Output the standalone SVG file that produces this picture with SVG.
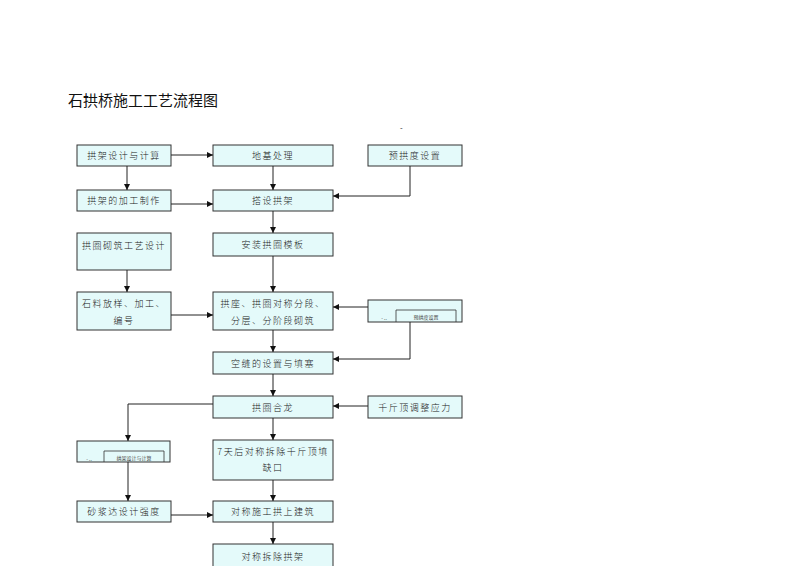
<svg xmlns="http://www.w3.org/2000/svg" width="800" height="566" viewBox="0 0 800 566">
<style>
.n{fill:#E4FAFA;stroke:#333;stroke-width:1}
.t{font-family:"Noto Sans CJK SC","Liberation Serif",sans-serif;font-size:9px;font-weight:300;letter-spacing:1.5px;fill:#222;text-anchor:middle;dominant-baseline:central}
.s{font-family:"Noto Sans CJK SC",sans-serif;font-size:5px;fill:#444;text-anchor:middle;dominant-baseline:central}
.c{stroke:#222;stroke-width:1;fill:none;marker-end:url(#a)}
</style>
<defs><marker id="a" viewBox="0 0 10 10" refX="10" refY="5" markerWidth="6" markerHeight="6" markerUnits="userSpaceOnUse" orient="auto"><path d="M0,0L10,5L0,10z" fill="#111"/></marker></defs>
<rect width="800" height="566" fill="#fff"/>
<text x="68" y="106" font-family="Noto Sans CJK SC,sans-serif" font-size="15" fill="#111">石拱桥施工工艺流程图</text>
<text x="400" y="130" font-family="Liberation Sans,sans-serif" font-size="8" fill="#333">-</text>
<g id="n1"><rect class="n" x="77" y="145" width="94" height="21"/><text class="t" x="124" y="155.5">拱架设计与计算</text></g>
<g id="n2"><rect class="n" x="213" y="145" width="120" height="21"/><text class="t" x="273" y="155.5">地基处理</text></g>
<g id="n3"><rect class="n" x="368" y="145" width="94" height="21"/><text class="t" x="415" y="155.5">预拱度设置</text></g>
<g id="n4"><rect class="n" x="77" y="190" width="94" height="21"/><text class="t" x="124" y="200.5">拱架的加工制作</text></g>
<g id="n5"><rect class="n" x="213" y="190" width="120" height="21"/><text class="t" x="273" y="200.5">搭设拱架</text></g>
<g id="n6"><rect class="n" x="77" y="233" width="94" height="37"/><text class="t" x="124" y="245">拱圈砌筑工艺设计</text></g>
<g id="n7"><rect class="n" x="213" y="233" width="120" height="23"/><text class="t" x="273" y="244.5">安装拱圈模板</text></g>
<g id="n8"><rect class="n" x="77" y="292" width="94" height="38"/><text class="t" x="124" y="303">石料放样、加工、</text><text class="t" x="124" y="320">编号</text></g>
<g id="n9"><rect class="n" x="213" y="292" width="120" height="38"/><text class="t" x="273" y="303">拱座、拱圈对称分段、</text><text class="t" x="273" y="320">分层、分阶段砌筑</text></g>
<g id="n10"><rect class="n" x="368" y="300" width="94" height="22"/><path d="M396,322V310H456V322" fill="none" stroke="#333" stroke-width="0.8"/><text class="s" x="426" y="316.5">预拱度设置</text><text class="s" x="384" y="317">- ..</text></g>
<g id="n11"><rect class="n" x="213" y="352" width="120" height="22"/><text class="t" x="273" y="363">空缝的设置与填塞</text></g>
<g id="n12"><rect class="n" x="213" y="396" width="120" height="22"/><text class="t" x="273" y="407">拱圈合龙</text></g>
<g id="n13"><rect class="n" x="368" y="396" width="94" height="22"/><text class="t" x="415" y="407">千斤顶调整应力</text></g>
<g id="n14"><rect class="n" x="77" y="441" width="93" height="21"/><path d="M104,462V451H164V462" fill="none" stroke="#333" stroke-width="0.8"/><text class="s" x="134" y="457">拱架设计与计算</text><text class="s" x="89" y="458">- ..</text></g>
<g id="n15"><rect class="n" x="213" y="440" width="120" height="40"/><text class="t" x="273" y="451">7天后对称拆除千斤顶填</text><text class="t" x="273" y="467">缺口</text></g>
<g id="n16"><rect class="n" x="77" y="501" width="94" height="21"/><text class="t" x="124" y="511.5">砂浆达设计强度</text></g>
<g id="n17"><rect class="n" x="213" y="501" width="120" height="21"/><text class="t" x="273" y="511.5">对称施工拱上建筑</text></g>
<g id="n18"><rect class="n" x="213" y="544" width="120" height="26"/><text class="t" x="273" y="556">对称拆除拱架</text></g>
<g id="connectors">
<path class="c" d="M171,155H213"/>
<path class="c" d="M127,166V190"/>
<path class="c" d="M273,166V190"/>
<path class="c" d="M410,166V196H333"/>
<path class="c" d="M171,204H213"/>
<path class="c" d="M273,211V233"/>
<path class="c" d="M127,270V292"/>
<path class="c" d="M273,256V292"/>
<path class="c" d="M171,315H213"/>
<path class="c" d="M368,307H333"/>
<path class="c" d="M410,322V359H333"/>
<path class="c" d="M273,330V352"/>
<path class="c" d="M273,374V396"/>
<path class="c" d="M368,406H333"/>
<path class="c" d="M213,404H128V441"/>
<path class="c" d="M273,418V440"/>
<path class="c" d="M128,462V501"/>
<path class="c" d="M273,480V501"/>
<path class="c" d="M171,515H213"/>
<path class="c" d="M273,522V544"/>
</g>
</svg>
